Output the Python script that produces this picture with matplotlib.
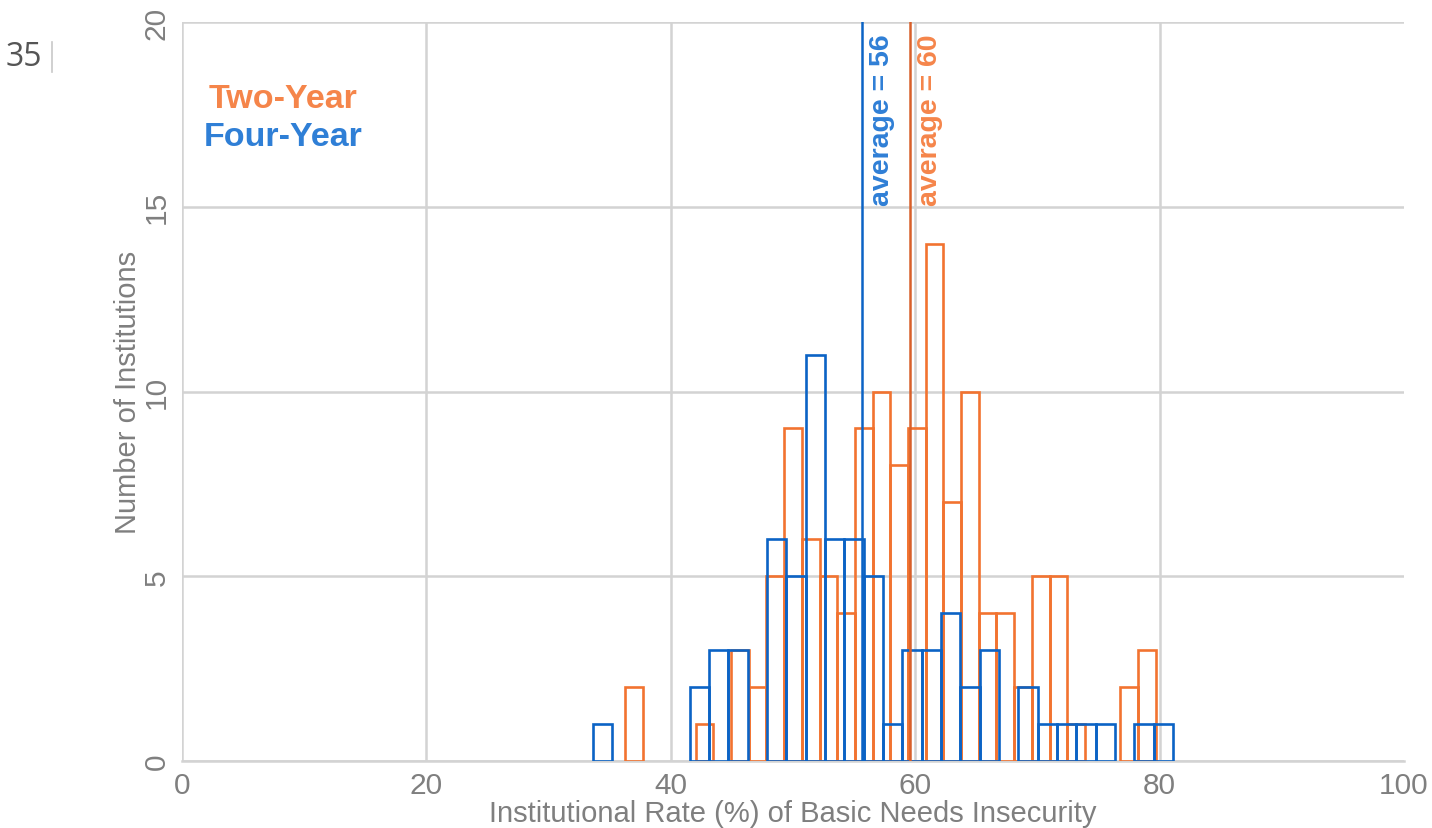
import numpy as np
import matplotlib
matplotlib.use("Agg")
import matplotlib.pyplot as plt

# ---- data ----
two_year_counts = [2, 0, 0, 0, 1, 0, 3, 2, 5, 9, 6, 5, 4, 9, 10, 8, 9, 14, 7, 10,
                   4, 4, 2, 5, 5, 1, 0, 0, 2, 3]
two_year_bin_start = 36.25
two_year_bin_width = 1.4476

four_year_counts = [1, 0, 0, 0, 0, 2, 3, 3, 0, 6, 5, 11, 6, 6, 5, 1, 3, 3, 4, 2,
                    3, 0, 2, 1, 1, 1, 1, 0, 1, 1]
four_year_bin_start = 33.63
four_year_bin_width = 1.582

two_year_mean = 59.6
four_year_mean = 55.65
two_year_label = "average = 60"
four_year_label = "average = 56"

x_ticks = [0, 20, 40, 60, 80, 100]
y_ticks = [0, 5, 10, 15, 20]

# ---- style ----
ORANGE = "#F27330"
BLUE = "#0B63C5"
ORANGE_TXT = "#F5854A"
BLUE_TXT = "#2F7FD6"
ORANGE_LINE = "#D8602A"
GRID = "#D3D3D3"
GRAY = "#7F7F7F"

plt.rcParams['font.family'] = ['Liberation Sans', 'DejaVu Sans']

fig = plt.figure(figsize=(14.32, 8.29), dpi=100)
ax = fig.add_axes([182 / 1432, 1 - 762 / 829, (1404 - 182) / 1432, (762 - 23) / 829])


def draw_hist(counts, start, width, color, z):
    counts = np.asarray(counts)
    left = start + width * np.arange(len(counts))
    keep = counts > 0
    ax.bar(left[keep], counts[keep], width=width, align='edge',
           fill=False, edgecolor=color, linewidth=1.9, zorder=z)


draw_hist(two_year_counts, two_year_bin_start, two_year_bin_width, ORANGE, 3)
draw_hist(four_year_counts, four_year_bin_start, four_year_bin_width, BLUE, 4)

ax.axvline(four_year_mean, color=BLUE, linewidth=1.8, zorder=5)
ax.axvline(two_year_mean, color=ORANGE_LINE, linewidth=1.8, zorder=5)

ax.text(four_year_mean + 0.55, 19.7, four_year_label, rotation=90, ha='left', va='top',
        color=BLUE_TXT, fontsize=20.5, fontweight='bold', zorder=6)
ax.text(two_year_mean + 0.55, 19.7, two_year_label, rotation=90, ha='left', va='top',
        color=ORANGE_TXT, fontsize=20.5, fontweight='bold', zorder=6)

ax.set_xlim(0, 100)
ax.set_ylim(0, 20)
ax.set_xticks(x_ticks)
ax.set_yticks(y_ticks)
ax.tick_params(axis='both', length=0, labelsize=21.5, labelcolor=GRAY)
ax.tick_params(axis='x', pad=7)
ax.tick_params(axis='y', pad=8)
for lbl in ax.get_yticklabels():
    lbl.set_rotation(90)
    lbl.set_va('center')

ax.grid(True, color=GRID, linewidth=1.8, zorder=0)
ax.set_axisbelow(True)
xgl = ax.get_xgridlines()
xgl[-1].set_visible(False)
for s in ax.spines.values():
    s.set_visible(False)
ax.spines['bottom'].set_visible(True)
ax.spines['bottom'].set_color(GRID)
ax.spines['bottom'].set_linewidth(1.8)

ax.set_xlabel("Institutional Rate (%) of Basic Needs Insecurity", fontsize=21,
              color=GRAY, labelpad=0)
ax.set_ylabel("Number of Institutions", fontsize=21, color=GRAY, labelpad=1)

fig.text(283 / 1432, 1 - 100 / 829, "Two-Year", color=ORANGE_TXT, fontsize=24.5,
         fontweight='bold', ha='center', va='center')
fig.text(283 / 1432, 1 - 137 / 829, "Four-Year", color=BLUE_TXT, fontsize=24.5,
         fontweight='bold', ha='center', va='center')

fig.text(6 / 1432, 1 - 57 / 829, "35", color="#555555", fontsize=23,
         family=['Open Sans', 'DejaVu Sans'], ha='left', va='center')
fig.add_artist(plt.Line2D([52 / 1432, 52 / 1432], [1 - 43 / 829, 1 - 73 / 829],
                          color="#C8C8C8", linewidth=1.2))

fig.savefig("out.png", dpi=100)
